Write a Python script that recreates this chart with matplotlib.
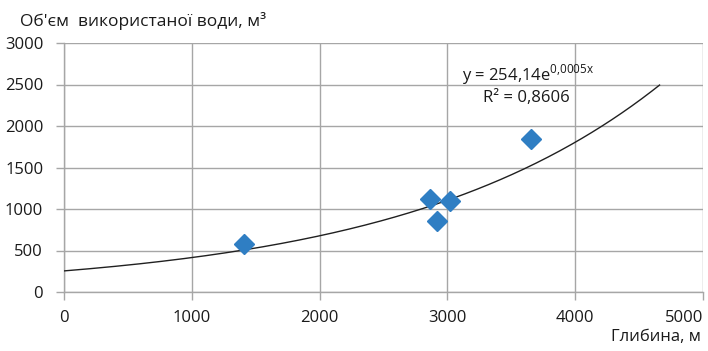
import numpy as np
from matplotlib import pyplot as plt

plt.rcParams['font.family'] = ['Open Sans', 'DejaVu Sans']

# measured wells: depth (m) and volume of used water (m3)
depth = [1408, 2864, 2919, 3020, 3654]
volume = [578, 1120, 855, 1096, 1843]

# exponential trend  y = a * exp(b x)
trend_a = 254.14
trend_b = 0.00049
trend_r2 = 0.8606
trend_x_end = 4660

x_ticks = [0, 1000, 2000, 3000, 4000, 5000]
y_ticks = [0, 500, 1000, 1500, 2000, 2500, 3000]

grid_col = '#a6a6a6'
text_col = '#1a1a1a'
W, H = 708, 351


def px(x, y):
    '''pixel position (from top-left) -> figure fraction'''
    return x / W, 1 - y / H


fig = plt.figure(figsize=(W / 100, H / 100), dpi=100)
ax = fig.add_axes([64 / W, 1 - 292 / H, 639 / W, 249 / H])

xs = np.linspace(0, trend_x_end, 300)
ax.plot(xs, trend_a * np.exp(trend_b * xs), color='#202020', lw=1.0, zorder=3)
ax.plot(depth, volume, linestyle='none', marker='D', markersize=10,
        color='#2f7ec3', markeredgecolor='#2f7ec3', zorder=4)

ax.set_xlim(0, 5000)
ax.set_ylim(0, 3000)
ax.set_xticks(x_ticks)
ax.set_yticks(y_ticks)
ax.grid(True, color=grid_col, lw=1.0)
ax.set_axisbelow(True)
for s in ['top', 'right']:
    ax.spines[s].set_visible(False)
for s in ['left', 'bottom']:
    ax.spines[s].set_color(grid_col)
    ax.spines[s].set_linewidth(1.0)
ax.tick_params(colors=grid_col, length=6, width=1.0, labelcolor=text_col,
               labelsize=12)
ax.tick_params(axis='x', pad=7)
ax.tick_params(axis='y', pad=9)
# keep the last x label inside the figure
ax.get_xticklabels()[-1].set_horizontalalignment('right')

coef = f'{trend_a:.2f}'.replace('.', ',')
expo = f'{0.0005:.4f}'.replace('.', '{,}')
fig.text(*px(462, 75), f'y = {coef}e$^{{\\mathregular{{{expo}x}}}}$',
         fontsize=12, color=text_col, va='center', ha='left')
fig.text(*px(483, 98), 'R² = ' + f'{trend_r2:.4f}'.replace('.', ','),
         fontsize=12, color=text_col, va='center', ha='left')

fig.text(*px(20, 21), 'Об\'єм  використаної води, м³',
         fontsize=12.5, color=text_col, va='center', ha='left')
fig.text(*px(701, 337), 'Глибина, м',
         fontsize=12, color=text_col, va='center', ha='right')

fig.savefig('out.png', dpi=100)
